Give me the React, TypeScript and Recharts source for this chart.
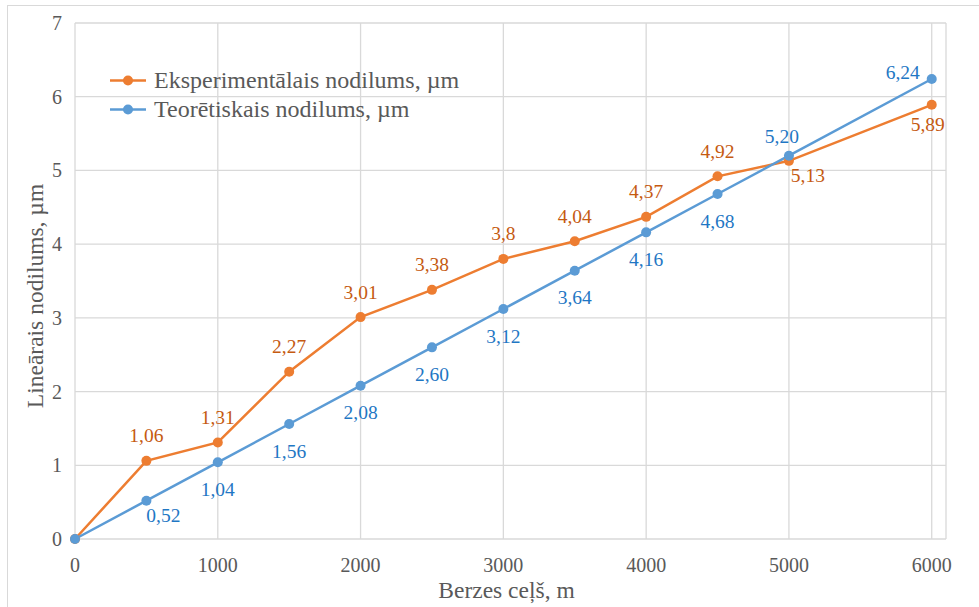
import React from 'react';
import {
  LineChart,
  Line,
  XAxis,
  YAxis,
  CartesianGrid,
  Legend,
  LabelList,
  Label,
} from 'recharts';

// ---- Data ----
const distance = [0, 500, 1000, 1500, 2000, 2500, 3000, 3500, 4000, 4500, 5000, 6000];
const experimental = [0, 1.06, 1.31, 2.27, 3.01, 3.38, 3.8, 4.04, 4.37, 4.92, 5.13, 5.89];
const theoretical = [0, 0.52, 1.04, 1.56, 2.08, 2.6, 3.12, 3.64, 4.16, 4.68, 5.2, 6.24];
const xTicks = [0, 1000, 2000, 3000, 4000, 5000, 6000];
const yTicks = [0, 1, 2, 3, 4, 5, 6, 7];

const expName = 'Eksperimentālais nodilums, µm';
const theoName = 'Teorētiskais nodilums, µm';
const xTitle = 'Berzes ceļš, m';
const yTitle = 'Lineārais nodilums, µm';

const data = distance.map((d, i) => ({
  d,
  exp: experimental[i],
  theo: theoretical[i],
}));

// ---- Styles ----
const FONT = '"Liberation Serif", "Times New Roman", serif';
const ORANGE = '#ED7D31';
const BLUE = '#5B9BD5';
const ORANGE_TEXT = '#C55A11';
const BLUE_TEXT = '#1F77C4';
const AXIS_TEXT = '#595959';
const GRID = '#D9D9D9';

// label offsets relative to the point (placement styling)
const expOffsets: Record<number, [number, number]> = { 10: [19, 15], 11: [-4, 20] };
const expDefault: [number, number] = [0, -25];
const theoOffsets: Record<number, [number, number]> = { 1: [17, 15], 10: [-7, -19], 11: [-29, -7] };
const theoDefault: [number, number] = [0, 27];

const fmtExp = (v: number) => String(v).replace('.', ',');
const fmtTheo = (v: number) => v.toFixed(2).replace('.', ',');

const makeLabel =
  (offsets: Record<number, [number, number]>, def: [number, number], color: string, fmt: (v: number) => string) =>
  (props: any) => {
    const { x, y, index, value } = props;
    if (index === 0 || x == null || y == null) return null;
    const [dx, dy] = offsets[index] || def;
    return (
      <text
        x={x + dx}
        y={y + dy}
        textAnchor="middle"
        dominantBaseline="central"
        fill={color}
        fontFamily={FONT}
        fontSize={19.5}
      >
        {fmt(Number(value))}
      </text>
    );
  };

const XTick = (props: any) => {
  const { x, y, payload } = props;
  return (
    <text x={x} y={y + 33} textAnchor="middle" fill={AXIS_TEXT} fontFamily={FONT} fontSize={20}>
      {payload.value}
    </text>
  );
};

const YTick = (props: any) => {
  const { x, y, payload } = props;
  return (
    <text x={x - 13} y={y} textAnchor="end" dominantBaseline="central" fill={AXIS_TEXT} fontFamily={FONT} fontSize={20}>
      {payload.value}
    </text>
  );
};

const LegendContent = (props: any) => {
  const { payload } = props;
  return (
    <div style={{ fontFamily: FONT, fontSize: 24, color: AXIS_TEXT }}>
      {(payload || []).map((p: any) => (
        <div key={p.value} style={{ display: 'flex', alignItems: 'center', height: 29, lineHeight: '29px' }}>
          <svg width={44} height={29} style={{ display: 'block' }}>
            <line x1={0} y1={14.5} x2={36} y2={14.5} stroke={p.color} strokeWidth={2.5} />
            <circle cx={18} cy={14.5} r={5} fill={p.color} />
          </svg>
          <span style={{ whiteSpace: 'nowrap' }}>{p.value}</span>
        </div>
      ))}
    </div>
  );
};

const XTitle = (props: any) => {
  const vb = props.viewBox || {};
  return (
    <text x={vb.x + vb.width / 2 - 4} y={598} textAnchor="middle" fill={AXIS_TEXT} fontFamily={FONT} fontSize={23.5}>
      {xTitle}
    </text>
  );
};

const YTitle = (props: any) => {
  const vb = props.viewBox || {};
  const cx = 43;
  const cy = vb.y + vb.height / 2 + 15;
  return (
    <text
      x={cx}
      y={cy}
      transform={`rotate(-90, ${cx}, ${cy})`}
      textAnchor="middle"
      fill={AXIS_TEXT}
      fontFamily={FONT}
      fontSize={23.5}
    >
      {yTitle}
    </text>
  );
};

export default function App() {
  return (
    <div
      style={{
        position: 'absolute',
        left: 0,
        top: 0,
        width: 979,
        height: 607,
        overflow: 'hidden',
        background: '#fff',
      }}
    >
      <div
        style={{
          position: 'absolute',
          left: 7,
          top: 5,
          width: 1000,
          height: 700,
          border: `1.5px solid ${GRID}`,
          boxSizing: 'border-box',
        }}
      />
      <div style={{ position: 'absolute', left: 0, top: 0 }}>
        <LineChart width={979} height={607} data={data} margin={{ top: 23, right: 33, left: 0, bottom: 0 }}>
          <CartesianGrid stroke={GRID} strokeWidth={1.3} />
          <XAxis
            dataKey="d"
            type="number"
            domain={[0, 6100]}
            ticks={xTicks}
            interval={0}
            height={68}
            axisLine={false}
            tickLine={false}
            tickSize={0}
            tickMargin={0}
            tick={<XTick />}
          >
            <Label content={<XTitle />} />
          </XAxis>
          <YAxis
            type="number"
            domain={[0, 7]}
            ticks={yTicks}
            interval={0}
            width={75}
            axisLine={false}
            tickLine={false}
            tickSize={0}
            tickMargin={0}
            tick={<YTick />}
          >
            <Label content={<YTitle />} />
          </YAxis>
          <Legend
            verticalAlign="middle"
            align="center"
            layout="vertical"
            content={<LegendContent />}
            wrapperStyle={{ left: 110, top: 66, width: 400, height: 58 }}
          />
          <Line
            dataKey="exp"
            name={expName}
            stroke={ORANGE}
            strokeWidth={2.5}
            dot={{ r: 5, fill: ORANGE, stroke: 'none' }}
            activeDot={false}
            isAnimationActive={false}
          >
            <LabelList dataKey="exp" content={makeLabel(expOffsets, expDefault, ORANGE_TEXT, fmtExp)} />
          </Line>
          <Line
            dataKey="theo"
            name={theoName}
            stroke={BLUE}
            strokeWidth={2.5}
            dot={{ r: 5, fill: BLUE, stroke: 'none' }}
            activeDot={false}
            isAnimationActive={false}
          >
            <LabelList dataKey="theo" content={makeLabel(theoOffsets, theoDefault, BLUE_TEXT, fmtTheo)} />
          </Line>
        </LineChart>
      </div>
    </div>
  );
}
